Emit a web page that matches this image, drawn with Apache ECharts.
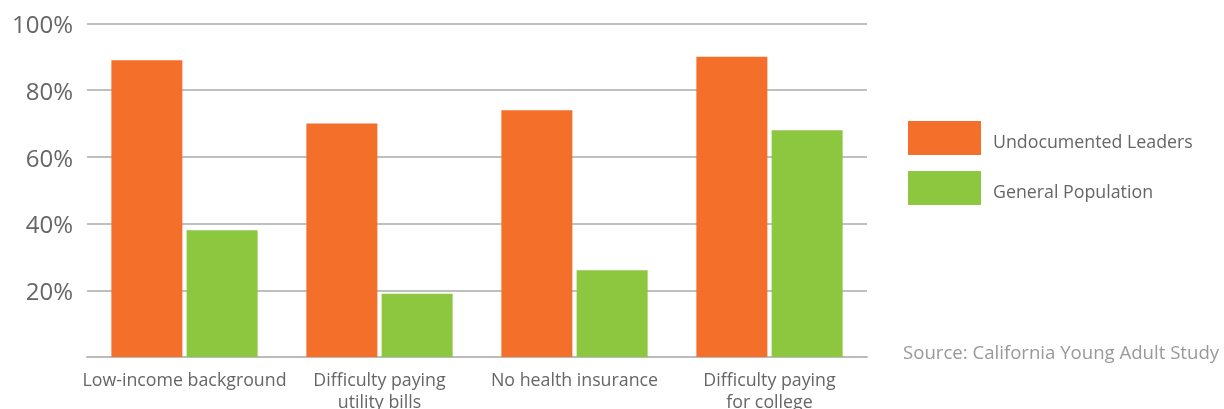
<!DOCTYPE html>
<html>
<head>
<meta charset="utf-8">
<script src="https://cdn.jsdelivr.net/npm/echarts@6/dist/echarts.min.js"></script>
<style>html,body{margin:0;padding:0;background:#fff;}#c{width:1224px;height:409px;}</style>
</head>
<body>
<div id="c"></div>
<script>
const categories = ['Low-income background', 'Difficulty paying\nutility bills', 'No health insurance', 'Difficulty paying\nfor college'];
const undocumented = [89, 70, 74, 90];
const generalPop = [38, 19, 26, 68];
const yTicks = [0, 20, 40, 60, 80, 100];
const seriesNames = ['Undocumented Leaders', 'General Population'];
const sourceText = 'Source: California Young Adult Study';

const font = 'Open Sans';
const chart = echarts.init(document.getElementById('c'), null, {renderer: 'canvas'});
chart.setOption({
  animation: false,
  grid: {left: 87, right: 357, top: 23.5, bottom: 52, outerBoundsMode: 'none', containLabel: false},
  legend: {
    orient: 'vertical', left: 908, top: 121, itemWidth: 73, itemHeight: 34, itemGap: 16,
    padding: 0, icon: 'rect',
    formatter: n => '{t|' + n + '}',
    textStyle: {
      fontFamily: font, fontSize: 17.8, color: '#666',
      rich: {t: {fontFamily: font, fontSize: 17.8, color: '#666', padding: [9, 0, 0, 7]}}
    },
    data: seriesNames
  },
  xAxis: {
    type: 'category', data: categories,
    axisLine: {lineStyle: {color: '#bbb', width: 2}},
    axisTick: {show: false},
    axisLabel: {fontFamily: font, fontSize: 17.8, color: '#666', margin: 13, lineHeight: 22, interval: 0}
  },
  yAxis: {
    type: 'value', min: 0, max: 100, interval: 20,
    axisLine: {show: false}, axisTick: {show: false},
    splitLine: {lineStyle: {color: '#aaa', width: 1.5}},
    axisLabel: {
      fontFamily: font, fontSize: 24, color: '#666', margin: 14,
      formatter: v => (v === 0 || yTicks.indexOf(v) < 0) ? '' : '{v|' + v + '%}',
      rich: {v: {fontFamily: font, fontSize: 24, color: '#666', padding: [6, 0, 0, 0]}}
    }
  },
  series: [
    {name: seriesNames[0], type: 'bar', data: undocumented, barWidth: 71, barGap: '6%', itemStyle: {color: '#F36F2A'}},
    {name: seriesNames[1], type: 'bar', data: generalPop, barWidth: 71, itemStyle: {color: '#8DC63F'}}
  ],
  graphic: [{
    type: 'text', left: 903, top: 344,
    style: {text: sourceText, fontFamily: font, fontSize: 18.6, fill: '#999'}
  }]
});
</script>
</body>
</html>
